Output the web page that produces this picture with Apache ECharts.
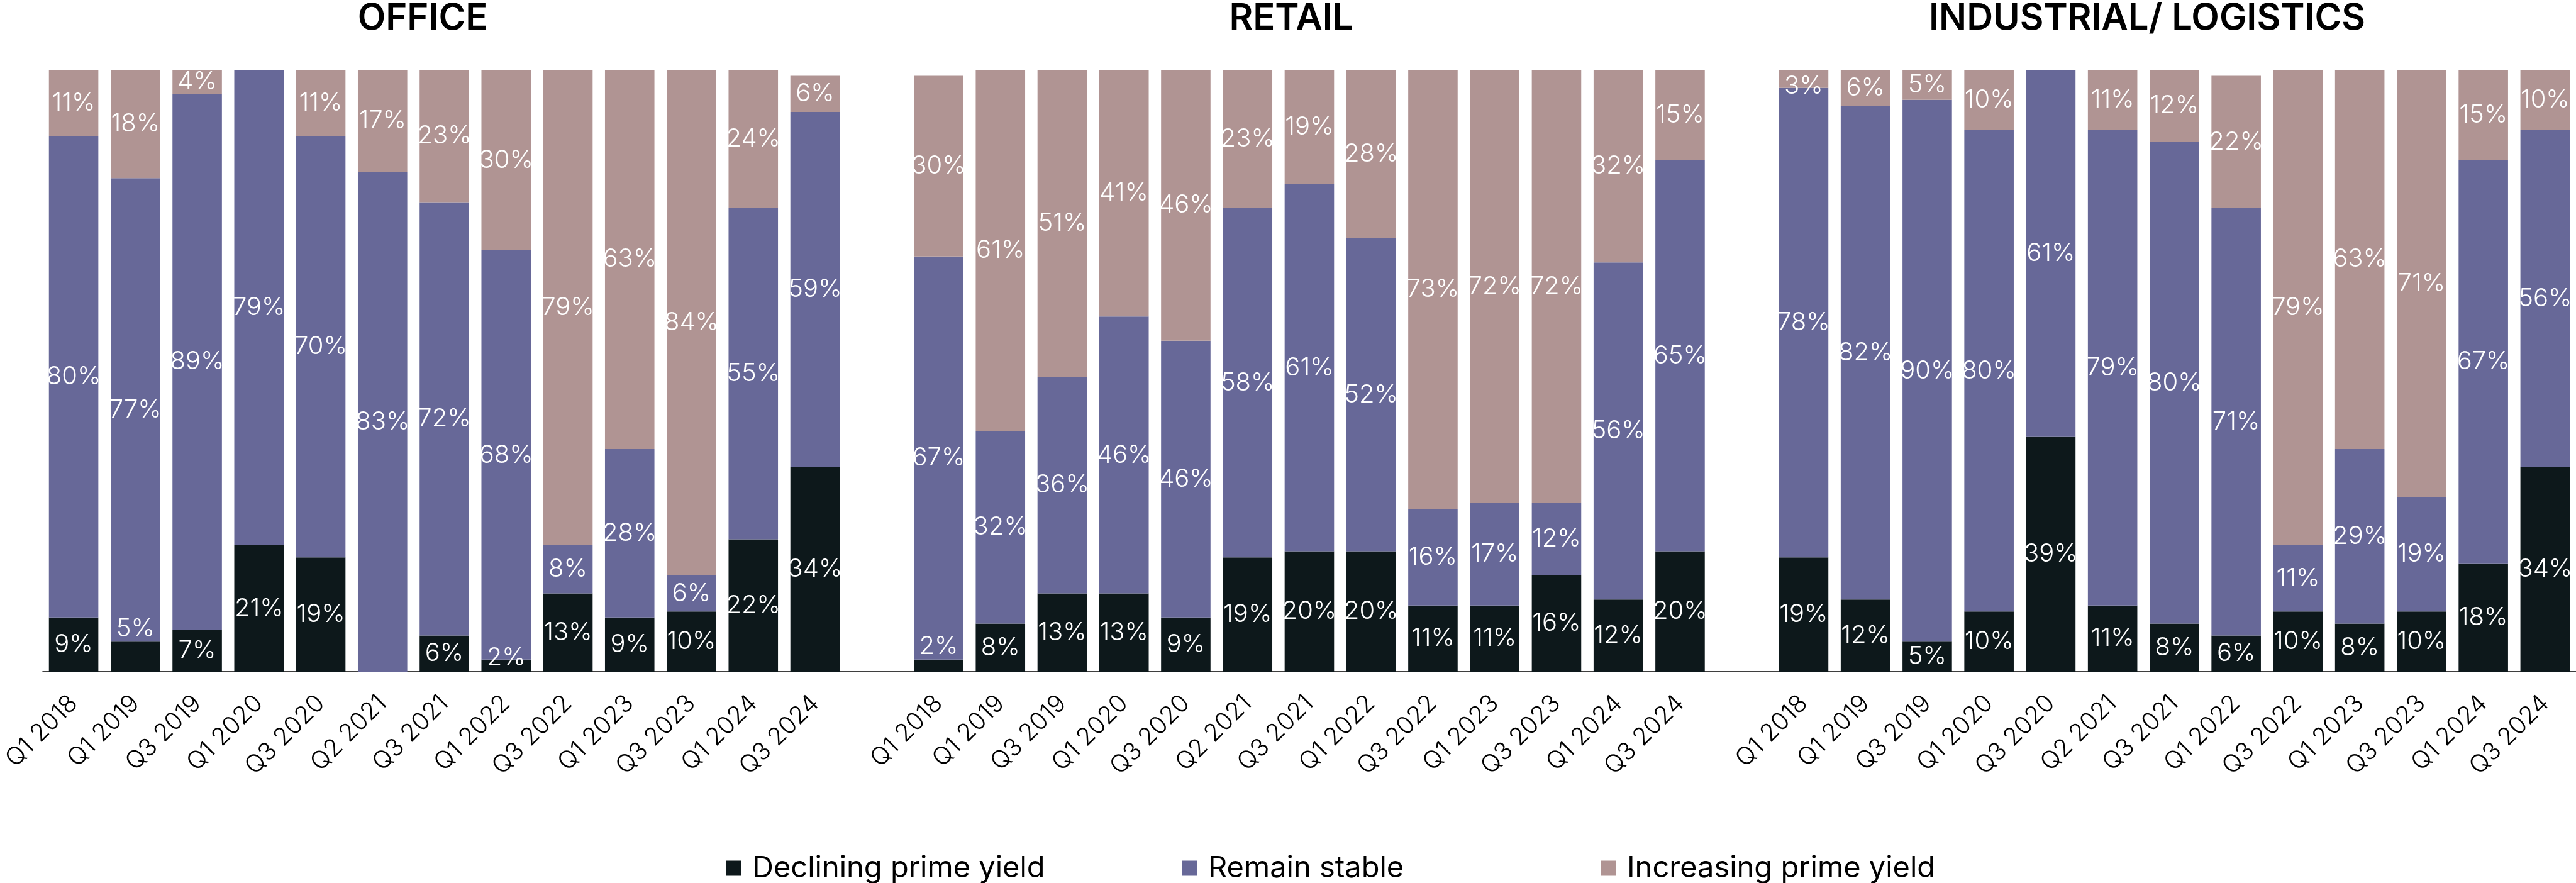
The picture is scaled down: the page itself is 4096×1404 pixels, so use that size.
<!DOCTYPE html>
<html>
<head>
<meta charset="utf-8">
<script src="https://cdn.jsdelivr.net/npm/echarts@6/dist/echarts.min.js"></script>
<style>
  html, body { margin: 0; padding: 0; background: #ffffff; }
  #chart { width: 4096px; height: 1404px; }
</style>
</head>
<body>
<div id="chart"></div>
<script>
// Survey quarters (same for every sector)
const quarters = ['Q1 2018', 'Q1 2019', 'Q3 2019', 'Q1 2020', 'Q3 2020', 'Q2 2021', 'Q3 2021',
                  'Q1 2022', 'Q3 2022', 'Q1 2023', 'Q3 2023', 'Q1 2024', 'Q3 2024'];

// Sector panel titles
const sectors = ['OFFICE', 'RETAIL', 'INDUSTRIAL/ LOGISTICS'];

// Series names
const seriesNames = ['Declining prime yield', 'Remain stable', 'Increasing prime yield'];

// Office (% of respondents)
const officeDeclining  = [9, 5, 7, 21, 19, 0, 6, 2, 13, 9, 10, 22, 34];
const officeStable     = [80, 77, 89, 79, 70, 83, 72, 68, 8, 28, 6, 55, 59];
const officeIncreasing = [11, 18, 4, 0, 11, 17, 23, 30, 79, 63, 84, 24, 6];

// Retail (% of respondents)
const retailDeclining  = [2, 8, 13, 13, 9, 19, 20, 20, 11, 11, 16, 12, 20];
const retailStable     = [67, 32, 36, 46, 46, 58, 61, 52, 16, 17, 12, 56, 65];
const retailIncreasing = [30, 61, 51, 41, 46, 23, 19, 28, 73, 72, 72, 32, 15];

// Industrial / logistics (% of respondents)
const industrialDeclining  = [19, 12, 5, 10, 39, 11, 8, 6, 10, 8, 10, 18, 34];
const industrialStable     = [78, 82, 90, 80, 61, 79, 80, 71, 11, 29, 19, 67, 56];
const industrialIncreasing = [3, 6, 5, 10, 0, 11, 12, 22, 79, 63, 71, 15, 10];

const colors = ['#0d181b', '#676898', '#b09493'];

// One shared category axis: three sector blocks separated by an empty slot
const GAP = [''];
const categories = [].concat(quarters, GAP, quarters, GAP, quarters);
function joinBlocks(a, b, c) {
  return [].concat(a, [null], b, [null], c);
}
const seriesData = [
  joinBlocks(officeDeclining, retailDeclining, industrialDeclining),
  joinBlocks(officeStable, retailStable, industrialStable),
  joinBlocks(officeIncreasing, retailIncreasing, industrialIncreasing)
];

// Vertical nudges for labels of thin segments: [seriesIndex, dataIndex, dy, leader line]
const labelNudges = [
  [0, 1, -44, true],   // office Q1 2019, 5%
  [0, 7, -12, false],  // office Q1 2022, 2%
  [0, 14, -30, false], // retail Q1 2018, 2%
  [2, 28, 12, false]   // industrial Q1 2018, 3%
];
function findNudge(si, di) {
  for (let k = 0; k < labelNudges.length; k++) {
    if (labelNudges[k][0] === si && labelNudges[k][1] === di) return labelNudges[k];
  }
  return null;
}

const FONT = 'Inter, Lato, sans-serif';

const chart = echarts.init(document.getElementById('chart'), null, { renderer: 'canvas' });

const series = seriesNames.map(function (name, si) {
  const items = seriesData[si].map(function (v, di) {
    const n = findNudge(si, di);
    if (n && n[3]) {
      return { value: v, labelLine: { show: true } };
    }
    return v;
  });
  return {
    name: name,
    type: 'bar',
    stack: 'total',
    barCategoryGap: '20%',
    data: items,
    itemStyle: { color: colors[si] },
    label: {
      show: true,
      position: 'inside',
      color: '#ffffff',
      fontFamily: FONT,
      fontWeight: 300,
      fontSize: 40,
      formatter: function (p) { return p.value ? p.value + '%' : ''; }
    },
    labelLine: { show: false, lineStyle: { color: '#000000', width: 1 } },
    labelLayout: function (params) {
      const n = findNudge(si, params.dataIndex);
      return n ? { dy: n[2] } : {};
    }
  };
});

function legendAt(name, left) {
  return {
    data: [name],
    left: left,
    top: 1352,
    icon: 'rect',
    itemWidth: 24,
    itemHeight: 24,
    textStyle: {
      fontFamily: FONT,
      fontSize: 47,
      color: '#000000',
      padding: [0, 0, 0, 12]
    }
  };
}

function titleText(text, x) {
  return {
    type: 'text',
    x: x,
    y: 30,
    style: {
      text: text,
      fill: '#000000',
      font: '600 58px Inter, Lato, sans-serif',
      textAlign: 'center',
      textVerticalAlign: 'middle'
    }
  };
}

const option = {
  animation: false,
  backgroundColor: '#ffffff',
  color: colors,
  grid: { left: 66, top: 111, width: 4033, bottom: 336, containLabel: false },
  xAxis: {
    type: 'category',
    data: categories,
    axisLine: { show: true, lineStyle: { color: '#000000', width: 1.5 } },
    axisTick: { show: false },
    axisLabel: {
      interval: 0,
      rotate: 45,
      margin: 44,
      color: '#000000',
      fontFamily: FONT,
      fontWeight: 300,
      fontSize: 39
    }
  },
  yAxis: {
    type: 'value',
    min: 0,
    max: 100,
    show: false,
    splitLine: { show: false }
  },
  legend: [
    legendAt(seriesNames[0], 1150),
    legendAt(seriesNames[1], 1875),
    legendAt(seriesNames[2], 2541)
  ],
  graphic: [
    titleText(sectors[0], 672),
    titleText(sectors[1], 2053),
    titleText(sectors[2], 3414)
  ],
  series: series
};

chart.setOption(option);
</script>
</body>
</html>
